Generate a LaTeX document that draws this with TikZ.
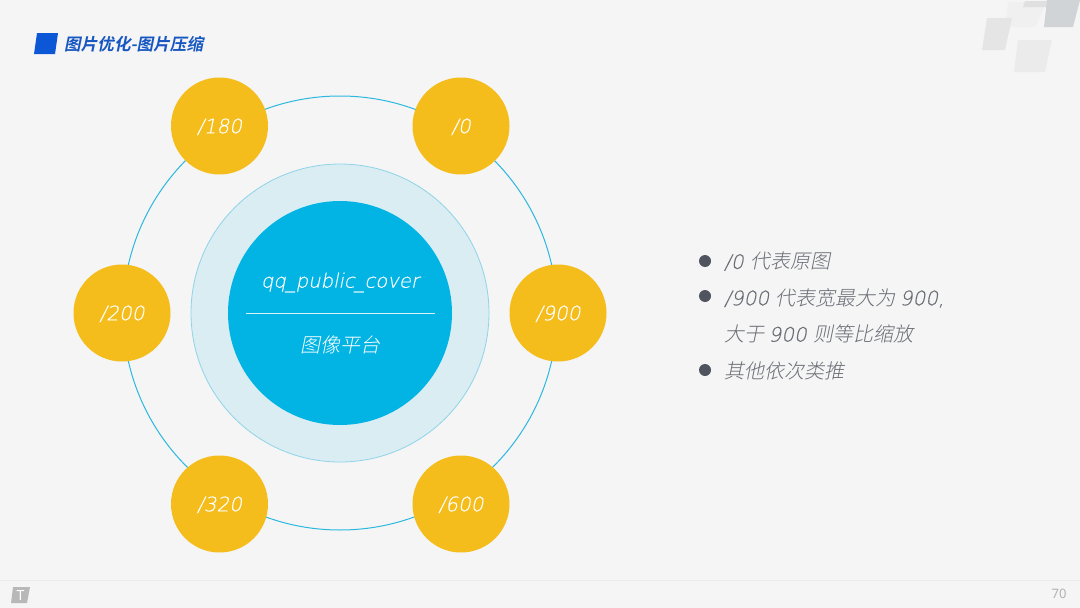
\documentclass[tikz,border=0pt]{standalone}
\usepackage{fontspec}
\setmainfont{Noto Sans}
\newfontfamily\lat[FakeSlant=0.2,FakeBold=0.25]{DejaVu Sans ExtraLight}
\newfontfamily\cjk[FakeSlant=0.2]{Noto Sans CJK SC Light}
\newfontfamily\cjkb[FakeSlant=0.2]{Noto Sans CJK SC Bold}
\newcommand{\fs}[1]{\fontsize{#1}{#1}\selectfont}
\definecolor{bg}{HTML}{F5F5F5}
\definecolor{yel}{HTML}{F4BD1C}
\definecolor{cyn}{HTML}{01B4E4}
\definecolor{pale}{HTML}{D9EDF3}
\definecolor{palee}{HTML}{8FD4E8}
\definecolor{ringc}{HTML}{2BB8DF}
\definecolor{navy}{HTML}{0B57D6}
\definecolor{ttl}{HTML}{1757C2}
\definecolor{dot}{HTML}{50545F}
\definecolor{txt}{HTML}{6A6D75}
\definecolor{decoa}{HTML}{D0D4D6}
\tikzset{
 x=1pt,y=-1pt,
 disc/.style={circle,fill=yel,draw=none,minimum size=97pt,inner sep=0pt,text=white,font=\lat\fs{20},text height=14.6pt,text depth=0pt},
 wtext/.style={text=white,inner sep=0pt,anchor=center},
 bul/.style={circle,fill=dot,minimum size=12pt,inner sep=0pt},
 btext/.style={text=txt,inner sep=0pt,anchor=west,font=\fs{20}},
 deco/.style={draw=none},
}
\begin{document}
\begin{tikzpicture}
\useasboundingbox (0,0) rectangle (1080,608);
\fill[bg] (0,0) rectangle (1080,608);
% decoration top right
\fill[deco,fill=black!6] (1008,2) -- (1047,2) -- (1035,27) -- (1005,27) -- cycle;
\fill[deco,fill=black!12] (1025,1) -- (1050,1) -- (1047,7) -- (1023,7) -- cycle;
\fill[deco,fill=decoa] (1047,0) -- (1080,0) -- (1073,27) -- (1044,27) -- cycle;
\fill[deco,fill=black!10] (987,18) -- (1012,18) -- (1005,50) -- (982,50) -- cycle;
\fill[deco,fill=black!8] (1018,40) -- (1052,40) -- (1045,72) -- (1014,72) -- cycle;
\fill[deco,fill=black!4] (995,72) -- (1005,72) -- (1002,94) -- (993,94) -- cycle;
% title
\fill[navy] (37,33) -- (58,33) -- (55,54) -- (34,54) -- cycle;
\node[inner sep=0pt,anchor=west,text=ttl] (title) at (64,44.5) {\fs{16.6}\cjkb 图片优化-图片压缩};
% circles
\node[circle,draw=ringc,line width=1pt,minimum size=434pt,inner sep=0pt] (ring) at (340,313) {};
\node[circle,fill=pale,draw=palee,line width=.8pt,minimum size=298pt,inner sep=0pt] (halo) at (340,313) {};
\node[circle,fill=cyn,minimum size=224pt,inner sep=0pt] (core) at (340,313) {};
\node[disc] (a) at (219.5,126) {/180};
\node[disc] (b) at (461,126) {/0};
\node[disc] (c) at (122,313) {/200};
\node[disc] (d) at (558,313) {/900};
\node[disc] (e) at (219.5,504) {/320};
\node[disc] (f) at (461,504) {/600};
% centre
\node[wtext] (t1) at (340,282.5) {\lat\fs{19.6}qq\_public\_cover};
\coordinate (l1) at (246,313);
\coordinate (l2) at (435,313);
\draw[white,line width=.8pt,opacity=.85] (l1) -- (l2);
\node[wtext] (t2) at (340,345) {\cjk\fs{20}图像平台};
% bullets
\node[bul] (b1) at (705,261) {};
\node[bul] (b2) at (705,296) {};
\node[bul] (b3) at (705,370) {};
\node[btext] (x1) at (724,261.5) {\lat /0 \cjk 代表原图};
\node[btext] (x2) at (724,298) {\lat /900 \cjk 代表宽最大为 \lat 900,};
\node[btext] (x3) at (724,334) {\cjk 大于 \lat 900 \cjk 则等比缩放};
\node[btext] (x4) at (724,370.5) {\cjk 其他依次类推};
% footer
\coordinate (f1) at (0,580.5);
\coordinate (f2) at (1080,580.5);
\draw[black!8,line width=1pt] (f1) -- (f2);
\fill[black!28] (13,587) -- (30,587) -- (27,603) -- (11,603) -- cycle;
\node[inner sep=0pt,text=white] (logo) at (20.5,595) {\fs{14}\bfseries T};
\node[inner sep=0pt,text=black!30] (pg) at (1059,593.5) {\fs{13}70};
\end{tikzpicture}
\end{document}
